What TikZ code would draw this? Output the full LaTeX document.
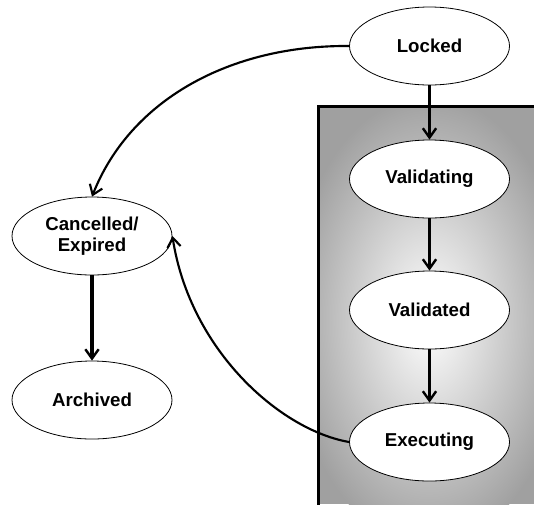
\documentclass[tikz,border=0pt]{standalone}
\usepackage{fontspec}
\setmainfont{Liberation Sans}
\usetikzlibrary{arrows.meta,shapes.geometric}
\definecolor{boxgray}{RGB}{160,160,160}
\begin{document}
\begin{tikzpicture}[x=0.75pt,y=-0.75pt,
  state/.style={ellipse, draw=black, line width=0.6pt, fill=white,
    minimum width=120pt, minimum height=58.5pt, inner sep=0pt,
    font=\fontsize{14}{15.5}\selectfont\bfseries, align=center},
  flow/.style={-{Straight Barb[length=7pt,width=10pt,line width=1.8pt]}, line width=2.4pt},
  back/.style={-{Straight Barb[length=7pt,width=10pt,line width=1.6pt]}, line width=1.6pt}
]
\useasboundingbox (0,0) rectangle (534,504);
\fill[white] (0,0) rectangle (534,504);
\begin{scope}
  \clip (318.5,106.5) rectangle (534,504);
  \fill[boxgray] (318.5,106.5) rectangle (534,504);
  \shade[inner color=white, outer color=boxgray] (429,320) ellipse [x radius=140, y radius=225];
\end{scope}
\begin{scope}
  \clip (0,0) rectangle (534,504);
  \draw[line width=2.4pt] (318.5,520) -- (318.5,106.5) -- (540,106.5);
\end{scope}
\node[state] (L) at (429.5,46) {Locked};
\node[state] (V1) at (429.5,179) {Validating};
\node[state] (V2) at (429.5,310) {Validated};
\node[state] (E) at (429.5,442) {Executing};
\node[state] (C) at (92,236) {Cancelled/\\Expired};
\node[state] (A) at (92,400) {Archived};
\draw[flow] (L) -- (V1);
\draw[flow] (V1) -- (V2);
\draw[flow] (V2) -- (E);
\draw[flow] (C) -- (A);
\draw[back] (L.west) .. controls (230,45) and (130,100) .. (C.north);
\draw[back] (E.west) .. controls (280,430) and (190,350) .. (C.east);
\end{tikzpicture}
\end{document}
